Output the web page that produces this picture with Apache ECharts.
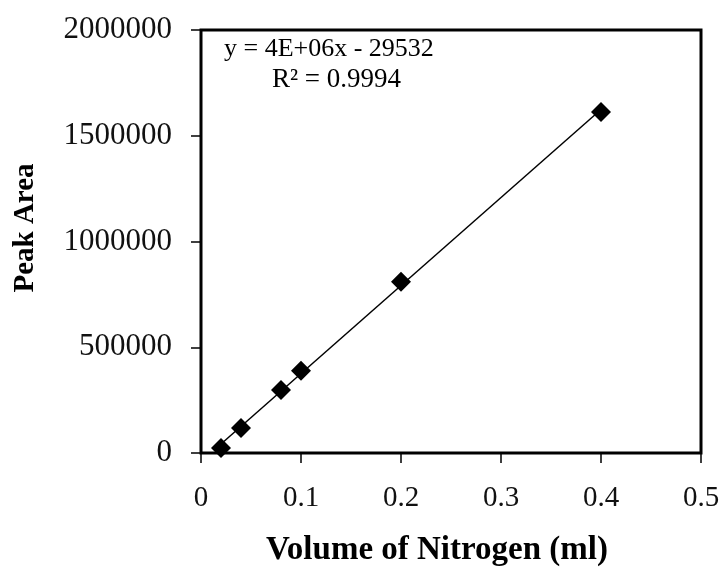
<!DOCTYPE html>
<html>
<head>
<meta charset="utf-8">
<script src="https://cdn.jsdelivr.net/npm/echarts@6/dist/echarts.min.js"></script>
<style>
html,body{margin:0;padding:0;background:#fff;}
#c{width:727px;height:578px;}
</style>
</head>
<body>
<div id="c"></div>
<script>
const volumes = [0.02, 0.04, 0.08, 0.1, 0.2, 0.4];
const peakAreas = [24000, 118000, 298000, 389000, 810000, 1612000];
const equationText = 'y = 4E+06x - 29532';
const r2Text = 'R² = 0.9994';
const xTitle = 'Volume of Nitrogen (ml)';
const yTitle = 'Peak Area';

// least-squares trendline from the data
const n = volumes.length;
const mx = volumes.reduce((a, b) => a + b, 0) / n;
const my = peakAreas.reduce((a, b) => a + b, 0) / n;
let sxy = 0, sxx = 0;
for (let i = 0; i < n; i++) { sxy += (volumes[i] - mx) * (peakAreas[i] - my); sxx += (volumes[i] - mx) ** 2; }
const slope = sxy / sxx, intercept = my - slope * mx;
const xMin = Math.min(...volumes), xMax = Math.max(...volumes);
const trend = [[xMin, slope * xMin + intercept], [xMax, slope * xMax + intercept]];

const font = 'Liberation Serif';
const chart = echarts.init(document.getElementById('c'));
chart.setOption({
  animation: false,
  backgroundColor: '#fff',
  grid: { left: 201, right: 26, top: 30, bottom: 125, show: true, borderColor: '#000', borderWidth: 3, backgroundColor: 'transparent' },
  xAxis: {
    type: 'value', min: 0, max: 0.5, interval: 0.1,
    axisLine: { show: true, lineStyle: { color: '#000', width: 2 } },
    axisTick: { show: true, length: 10, lineStyle: { color: '#000', width: 1.5 } },
    axisLabel: { fontFamily: font, fontSize: 29, color: '#111', margin: 31, formatter: v => String(v) },
    splitLine: { show: false }
  },
  yAxis: {
    type: 'value', min: 0, max: 2000000, interval: 500000,
    axisLine: { show: true, lineStyle: { color: '#000', width: 2 } },
    axisTick: { show: true, length: 10, lineStyle: { color: '#000', width: 1.5 } },
    axisLabel: { fontFamily: font, fontSize: 31, color: '#111', margin: 29, formatter: v => String(v) },
    splitLine: { show: false }
  },
  graphic: [
    { type: 'text', left: 224, top: 36, style: { text: equationText, font: '26px "Liberation Serif"', fill: '#000' } },
    { type: 'text', left: 272, top: 66, style: { text: r2Text, font: '27px "Liberation Serif"', fill: '#000' } },
    { type: 'text', x: 437, y: 550, style: { text: xTitle, font: 'bold 33px "Liberation Serif"', fill: '#000', align: 'center', verticalAlign: 'middle' } },
    { type: 'text', x: 26, y: 228, rotation: Math.PI / 2, style: { text: yTitle, font: 'bold 29px "Liberation Serif"', fill: '#000', align: 'center', verticalAlign: 'middle' } }
  ],
  series: [
    { type: 'line', data: trend, symbol: 'none', lineStyle: { color: '#000', width: 1.5 }, z: 2 },
    { type: 'scatter', data: volumes.map((v, i) => [v, peakAreas[i]]), symbol: 'diamond', symbolSize: 20, itemStyle: { color: '#000', opacity: 1 }, z: 3 }
  ]
});
</script>
</body>
</html>
